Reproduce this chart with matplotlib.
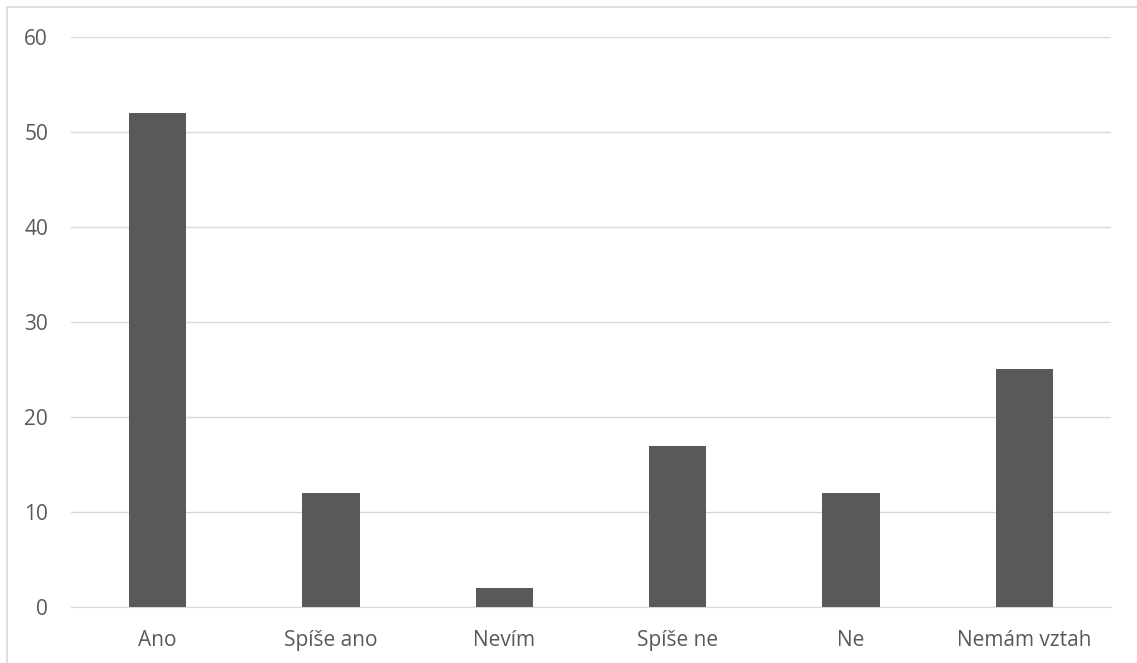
import matplotlib.pyplot as plt
from matplotlib.patches import Rectangle

categories = ["Ano", "Spíše ano", "Nevím", "Spíše ne", "Ne", "Nemám vztah"]
values = [52, 12, 2, 17, 12, 25]
yticks = [0, 10, 20, 30, 40, 50, 60]

bar_color = "#595959"
grid_color = "#d9d9d9"
text_color = "#595959"

plt.rcParams['font.family'] = ['Open Sans', 'DejaVu Sans']

fig = plt.figure(figsize=(11.37, 6.63), dpi=100)
# plot area: x 71..1111 px, y 37..607 px
ax = fig.add_axes([71 / 1137, 56 / 663, 1040 / 1137, 570 / 663])

x = list(range(len(categories)))
ax.bar(x, values, width=0.33, color=bar_color, zorder=3)

ax.set_xlim(-0.5, len(categories) - 0.5)
ax.set_ylim(0, 60)
ax.set_yticks(yticks)
ax.set_xticks(x)
ax.set_xticklabels(categories)
ax.yaxis.grid(True, color=grid_color, linewidth=1, zorder=0)
ax.tick_params(length=0, labelsize=15, colors=text_color)
ax.tick_params(axis='y', pad=16.5)
ax.tick_params(axis='x', pad=16.5)

for side in ['top', 'right', 'left']:
    ax.spines[side].set_visible(False)
ax.spines['bottom'].set_color(grid_color)

# thin frame around the chart, cut off at right and bottom
fig.patches.append(Rectangle((7 / 1137, -0.05), 1.1, 1.05 - 7 / 663, transform=fig.transFigure,
                             fill=False, edgecolor=grid_color, linewidth=1.2))

fig.savefig("out.png", dpi=100)
